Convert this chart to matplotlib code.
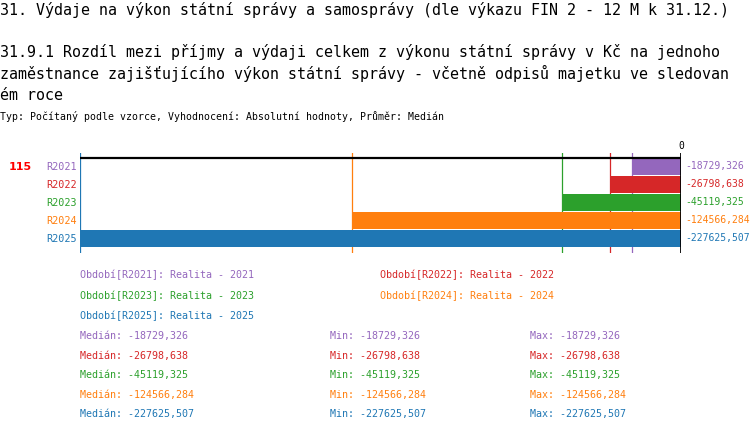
import matplotlib.pyplot as plt

W, H = 750, 434

TITLE = "31. Výdaje na výkon státní správy a samosprávy (dle výkazu FIN 2 - 12 M k 31.12.)"
SUBTITLE = [
    "31.9.1 Rozdíl mezi příjmy a výdaji celkem z výkonu státní správy v Kč na jednoho",
    "zaměstnance zajišťujícího výkon státní správy - včetně odpisů majetku ve sledovan",
    "ém roce",
]
INFO = "Typ: Počítaný podle vzorce, Vyhodnocení: Absolutní hodnoty, Průměr: Medián"

periods = ["R2021", "R2022", "R2023", "R2024", "R2025"]
period_names = ["Realita - 2021", "Realita - 2022", "Realita - 2023",
                "Realita - 2024", "Realita - 2025"]
values = [-18729.326, -26798.638, -45119.325, -124566.284, -227625.507]
colors = ["#9467bd", "#d62728", "#2ca02c", "#ff7f0e", "#1f77b4"]
row_label = "115"

MONO = "DejaVu Sans Mono"


def fmt(v):
    return f"{v:.3f}".replace(".", ",")


def fx(px):
    return px / W


def fy(py):
    return 1 - py / H


fig = plt.figure(figsize=(W / 100, H / 100), dpi=100)

# nadpisy
fig.text(0, fy(10), TITLE, family=MONO, fontsize=10.8, va="center")
for i, line in enumerate(SUBTITLE):
    fig.text(0, fy(52 + i * 21.5), line, family=MONO, fontsize=10.8, va="center")
fig.text(0, fy(117), INFO, family=MONO, fontsize=7.1, va="center")

# graf
top_px, bot_px = 153, 253
ax = fig.add_axes([fx(80), fy(bot_px), fx(681 - 80), (bot_px - top_px) / H])
ypos = list(range(len(periods)))
ax.barh(ypos, values, height=0.89, color=colors)
ax.set_xlim(min(values), 0)
ax.set_ylim(4.806, -0.75)
for s in ax.spines.values():
    s.set_visible(False)

for v, c in zip(values, colors):
    ax.axvline(v, color=c, lw=0.9, zorder=0)
ax.axhline(-0.472, color="black", lw=1.6)
ax.axvline(0, color="black", lw=2)
ax.text(0, 1.02, "0", transform=ax.get_xaxis_transform(), ha="center",
        va="bottom", family=MONO, fontsize=7, clip_on=False)

ax.set_xticks([])
ax.set_yticks(ypos)
ax.set_yticklabels(periods, family=MONO, fontsize=7.3)
ax.tick_params(axis="y", length=0, pad=2)
for lbl, c in zip(ax.get_yticklabels(), colors):
    lbl.set_color(c)

for y, v, c in zip(ypos, values, colors):
    ax.annotate(fmt(v), (0, y), xytext=(3, 0), textcoords="offset points",
                va="center", ha="left", color=c, family=MONO, fontsize=7,
                annotation_clip=False)

fig.text(fx(9), fy(167), row_label, color="red", fontsize=8, weight="bold",
         va="center")

# legenda
leg_pos = [(80, 275), (380, 275), (80, 296), (380, 296), (80, 316)]
for (x, y), p, n, c in zip(leg_pos, periods, period_names, colors):
    fig.text(fx(x), fy(y), f"Období[{p}]: {n}", color=c, family=MONO,
             fontsize=7.2, va="center")

# statistiky
for i, (v, c) in enumerate(zip(values, colors)):
    y = fy(336 + i * 19.6)
    fig.text(fx(80), y, f"Medián: {fmt(v)}", color=c, family=MONO, fontsize=7.2, va="center")
    fig.text(fx(330), y, f"Min: {fmt(v)}", color=c, family=MONO, fontsize=7.2, va="center")
    fig.text(fx(530), y, f"Max: {fmt(v)}", color=c, family=MONO, fontsize=7.2, va="center")

fig.savefig("out.png", dpi=100)
